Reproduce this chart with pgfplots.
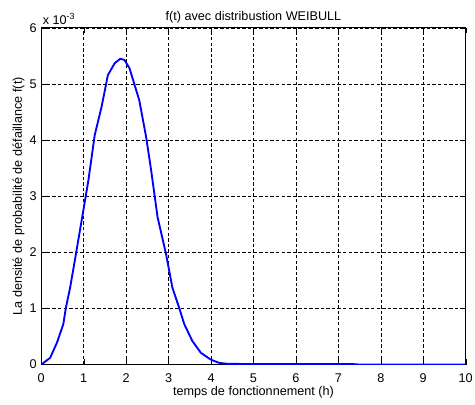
\documentclass[border=0pt]{standalone}
\usepackage{pgfplots}
\pgfplotsset{compat=1.18}
\usepackage{fontspec}
\setmainfont{Liberation Sans}

\begin{document}
\begin{tikzpicture}
% frame of the whole figure, same margins as the reference (0.75pt per px)
\useasboundingbox (-31pt,-30pt) rectangle (326pt,274pt);
\begin{axis}[
  width=319pt, height=253pt, scale only axis,
  xmin=0, xmax=10, ymin=0, ymax=0.006,
  xtick={0,1,...,10},
  ytick={0,0.001,0.002,0.003,0.004,0.005,0.006},
  scaled y ticks=base 10:3,
  ytick scale label code/.code={x 10\textsuperscript{#1}},
  every y tick scale label/.style={at={(rel axis cs:0,1)}, anchor=south west, inner sep=0pt, xshift=1pt, yshift=2.5pt},
  /pgf/number format/assume math mode=true,
  tick align=inside, major tick length=4pt,
  grid=major,
  major grid style={black, dash pattern=on 2.6pt off 1.6pt, line width=0.4pt},
  axis line style={black, line width=0.7pt},
  tick style={black},
  font=\fontsize{9.5}{11}\selectfont,
  title={f(t) avec distribustion WEIBULL},
  title style={at={(rel axis cs:0.5,1)}, anchor=center, yshift=2pt},
  xlabel={temps de fonctionnement (h)},
  ylabel={La densité de probabilité de défaillance f(t)},
  xlabel style={at={([yshift=-20.5pt]rel axis cs:0.5,0)}, anchor=center},
  ylabel style={at={([xshift=-17pt]rel axis cs:0,0.5)}, anchor=center},
  xticklabel style={anchor=center, yshift=-10pt},
]
\addplot[blue, line width=1.4pt] coordinates {
(0,0) (0.21,0.12e-3) (0.37,0.39e-3) (0.52,0.72e-3) (0.58,1.01e-3) (0.68,1.37e-3)
(0.79,1.85e-3) (0.99,2.74e-3) (1.11,3.28e-3) (1.26,4.09e-3) (1.42,4.59e-3)
(1.57,5.16e-3) (1.73,5.37e-3) (1.86,5.45e-3) (1.96,5.43e-3) (2.08,5.28e-3)
(2.31,4.71e-3) (2.47,4.06e-3) (2.59,3.46e-3) (2.74,2.63e-3) (2.94,1.97e-3)
(3.09,1.37e-3) (3.25,1.01e-3) (3.37,0.72e-3) (3.56,0.42e-3) (3.76,0.21e-3)
(3.99,0.09e-3) (4.19,0.03e-3) (4.4,0.012e-3) (5,0.01e-3) (6,0.01e-3)
(7,0.01e-3) (7.35,0.008e-3) (7.5,0) (8,0) (9,0) (10,0)
};
\end{axis}
\end{tikzpicture}
\end{document}
